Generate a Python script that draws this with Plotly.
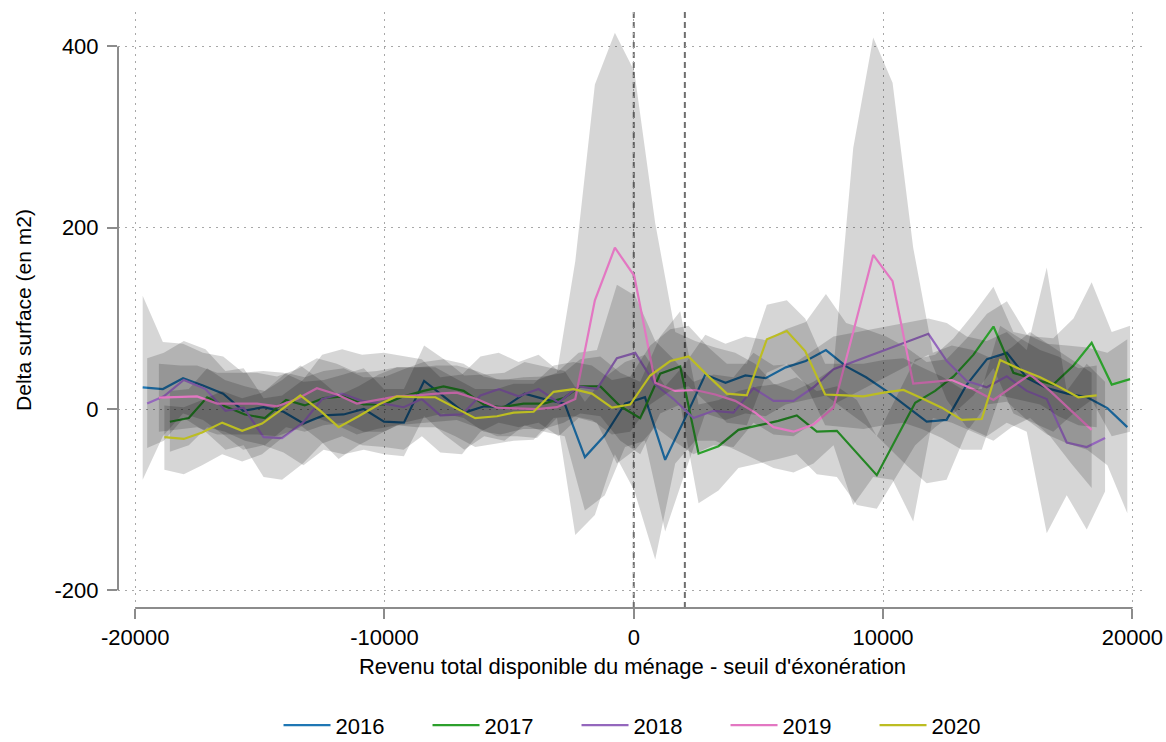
import plotly.graph_objects as go

# estimates (x = revenu - seuil, y = delta surface)
x_2016 = [-19700, -18890, -18080, -17280, -16470, -15670, -14860, -14050, -13250, -12440,
          -11640, -10830, -10020, -9220, -8410, -7610, -6800, -6000, -5190, -4380,
          -3580, -2770, -1960, -1160, -350, 450, 1260, 2060, 2870, 3680,
          4480, 5290, 6100, 6900, 7710, 8520, 9320, 10130, 10940, 11750,
          12550, 13360, 14170, 14970, 15780, 16580, 17390, 18190, 19000, 19800]
y_2016 = [24, 22, 34, 26, 17, -2, 2, -3, -16, -7, -6, 0, -14, -15, 31, 14, -4, 3, 2, 17,
          11, 6, -53, -29, 6, 13, -56, -10, 38, 29, 37, 34, 46, 53, 65, 47, 35, 20, 3, -14,
          -12, 27, 55, 62, 34, 23, 17, 13, 1, -20]
lo_2016 = [-78, -30, -5, -12, -28, -45, -40, -48, -62, -45, -50, -45, -50, -52, -8, -28, -45, -30, -35, -18,
           -25, -30, -112, -95, -42, -35, -135, -70, -5, -12, -5, -8, 5, 10, 15, -2, -18, -40, -62, -82,
           -78, -25, 5, 8, -12, -28, -38, -45, -62, -115]
hi_2016 = [125, 74, 72, 62, 58, 40, 42, 40, 30, 32, 38, 45, 22, 22, 70, 55, 37, 38, 40, 52,
           47, 42, 8, 35, 52, 60, 25, 50, 82, 72, 80, 76, 88, 96, 127, 95, 88, 80, 68, 52,
           55, 78, 105, 119, 82, 72, 70, 68, 62, 77]

x_2017 = [-18610, -17850, -17115, -16400, -15600, -14800, -13950, -13200, -12440, -11640,
          -10840, -10030, -9230, -8430, -7630, -6825, -6020, -5350, -4420, -3620,
          -2810, -2150, -1340, -540, 260, 1060, 1865, 2600, 3400, 4200,
          5000, 5800, 6540, 7345, 8150, 8950, 9750, 11290, 12090, 12830,
          13630, 14430, 15230, 16030, 16830, 17640, 18370, 19175, 19910]
y_2017 = [-14, -10, 13, 3, -6, -10, 10, 4, 12, 14, 5, 5, 14, 20, 25, 20, 5, 2, 6, 6,
          12, 25, 25, 3, -10, 39, 47, -49, -41, -23, -18, -13, -7, -25, -24, -48, -73, 7, 20, 36,
          60, 91, 40, 33, 27, 48, 73, 27, 33]
lo_2017 = [-47, -40, -20, -25, -35, -40, -20, -25, -18, -15, -25, -25, -15, -10, -5, -10, -25, -28, -22, -22,
           -15, -5, -8, -35, -50, -5, 5, -104, -90, -65, -60, -55, -50, -72, -75, -106, -110, -40, -20, -5,
           15, 45, -5, -15, -25, -5, 10, -30, -25]
hi_2017 = [20, 22, 45, 32, 25, 20, 40, 35, 42, 45, 35, 35, 44, 52, 55, 50, 36, 32, 35, 36,
           40, 55, 58, 40, 30, 80, 108, 5, 10, 20, 25, 28, 35, 20, 25, 10, -30, 55, 60, 78,
           105, 135, 85, 80, 78, 100, 140, 85, 92]

x_2018 = [-19520, -18850, -18050, -17180, -16380, -15650, -14850, -14110, -13270, -12500,
          -11700, -10900, -10030, -9230, -8500, -7760, -6890, -6150, -5420, -4620,
          -3820, -3015, -2213, -1478, -676, 60, 862, 1597, 2399, 3201,
          4003, 4805, 5607, 6409, 7211, 8013, 11823, 12558, 13360, 14162,
          14964, 15766, 16568, 17370, 18172, 18907]
y_2018 = [6, 14, 32, 22, -2, 1.5, -31, -32, -15, 11, 17, 9, 6, 2, 11, -7, -6, 15, 22, 14,
          22, 7, 25, 22, 56, 62, 27, 11, -10, -2, -4, 23, 9, 9, 24, 44, 83, 53, 31, 24,
          36, 20, 11, -37, -42, -32]
lo_2018 = [-43, -35, -10, -25, -45, -40, -75, -78, -60, -38, -30, -40, -42, -45, -30, -48, -50, -25, -15, -20,
           -15, -30, -10, -15, -60, -45, -20, -35, -50, -40, -42, -15, -28, -30, -15, 5, 60, 10, -20, -30,
           -15, -25, -137, -95, -133, -91]
hi_2018 = [56, 62, 75, 66, 42, 45, 12, 15, 32, 60, 66, 60, 62, 58, 55, 35, 38, 58, 62, 52,
           60, 42, 62, 65, 137, 125, 75, 55, 30, 38, 35, 62, 48, 50, 65, 80, 100, 95, 80, 75,
           85, 65, 156, 20, 50, 30]

x_2019 = [-19050, -18180, -17520, -16710, -15910, -15110, -14310, -13510, -12710, -11910,
          -11110, -10300, -9500, -8700, -7900, -7100, -6300, -5487, -4685, -3883,
          -3081, -2346, -1559, -757, 20, 862, 1664, 2466, 3268, 4070,
          4872, 5607, 6409, 7211, 8013, 8805, 9606, 10383, 11211, 12000,
          12760, 13600, 14430, 15150, 15900, 16700, 17550, 18370]
y_2019 = [12.5, 13, 14, 6, 6, 6, 3, 11, 23, 16, 6, 10, 14, 15, 17, 18, 11, 1.5, 0.7, 0,
          2, 11, 120, 178, 147, 29, 20, 21, 16, 9, -4, -20, -25, -17, 1.5, 86, 170, 141, 28, 30,
          32, 22, 10, 24, 38, 20, -2, -23]
lo_2019 = [-25, -22, -20, -28, -28, -28, -30, -22, -10, -18, -28, -22, -18, -16, -14, -12, -20, -30, -30, -32,
           -10, -139, -117, -50, -90, -166, -60, -35, -35, -45, -55, -65, -70, -60, -40, -106, -75, -78, -124, -10,
           -15, -25, -35, -20, -10, -30, -60, -87]
hi_2019 = [50, 48, 48, 40, 40, 40, 36, 44, 56, 50, 40, 42, 46, 46, 48, 48, 42, 33, 32, 32,
           40, 163, 358, 415, 373, 205, 85, 75, 68, 62, 50, 28, 20, 30, 45, 288, 410, 360, 178, 62,
           70, 65, 55, 68, 85, 70, 55, 40]

x_2020 = [-18830, -18050, -17315, -16510, -15710, -14910, -14110, -13375, -12570, -11840,
          -11040, -10230, -9500, -8700, -7960, -7160, -6360, -5487, -4819, -4017,
          -3215, -2413, -1678, -876, -141, 661, 1463, 2198, 3000, 3736,
          4538, 5340, 6141, 6877, 7679, 8481, 9216, 10020, 10820, 11556,
          12358, 13160, 13962, 14697, 15499, 16301, 17036, 17838, 18573]
y_2020 = [-31, -33, -26, -15, -24, -16, 0, 15, -2, -20, -8, 5, 14, 13, 13, 1.5, -10, -8, -4, -3,
          19, 22, 17, 1.5, 5, 37, 53, 58, 36, 17, 15, 77, 86, 64, 16, 15, 14, 18, 21, 12,
          1.5, -12, -11, 54, 44, 35, 25, 13, 15]
lo_2020 = [-67, -72, -62, -50, -58, -50, -32, -18, -35, -55, -40, -28, -18, -20, -20, -30, -42, -38, -35, -34,
           -10, -8, -12, -28, -25, 5, 20, 25, 5, -15, -18, 40, 50, 28, -18, -20, -22, -18, -15, -22,
           -32, -45, -45, 15, 10, 5, -8, -18, -20]
hi_2020 = [4, 2, 10, 20, 12, 18, 32, 48, 32, 15, 25, 38, 46, 46, 46, 34, 22, 22, 28, 28,
           48, 52, 48, 32, 36, 70, 88, 92, 68, 50, 50, 115, 120, 100, 50, 50, 50, 54, 56, 46,
           36, 22, 22, 92, 78, 65, 58, 45, 48]

years = ["2016", "2017", "2018", "2019", "2020"]
colors = ["#1f77b4", "#2ca02c", "#9467bd", "#e377c2", "#bcbd22"]
series = [(x_2016, y_2016, lo_2016, hi_2016), (x_2017, y_2017, lo_2017, hi_2017),
          (x_2018, y_2018, lo_2018, hi_2018), (x_2019, y_2019, lo_2019, hi_2019),
          (x_2020, y_2020, lo_2020, hi_2020)]

x_ticks = [-20000, -10000, 0, 10000, 20000]
y_ticks = [-200, 0, 200, 400]
seuils = [0, 2050]

fig = go.Figure()
# stata-like order: band then line for each year, so later bands cover earlier lines
for yr, col, (xs, ys, lo, hi) in zip(years, colors, series):
    fig.add_trace(go.Scatter(x=xs + xs[::-1], y=hi + lo[::-1], fill='toself',
                             fillcolor='rgba(0,0,0,0.16)', line=dict(width=0),
                             mode='lines', showlegend=False, hoverinfo='skip'))
    fig.add_trace(go.Scatter(x=xs, y=ys, mode='lines', name=yr,
                             line=dict(color=col, width=2.2)))

font = "Liberation Sans, Arial, Helvetica, sans-serif"
axis_col = "#8c8c8c"

for s in seuils:
    fig.add_shape(type='line', xref='x', yref='paper', x0=s, x1=s, y0=0, y1=1,
                  line=dict(color='#6e6e6e', width=2, dash='6px,4px'), layer='below')

# axis lines only span the tick range, like in stata
fig.add_shape(type='line', xref='x', yref='paper', x0=x_ticks[0], x1=x_ticks[-1], y0=0, y1=0,
              line=dict(color=axis_col, width=2))
fig.add_shape(type='line', xref='paper', yref='y', x0=0, x1=0, y0=y_ticks[0], y1=y_ticks[-1],
              line=dict(color=axis_col, width=2))

fig.update_layout(
    width=1166, height=742,
    paper_bgcolor='white', plot_bgcolor='white',
    margin=dict(l=118, r=19, t=12, b=134, autoexpand=False),
    font=dict(family=font, size=22, color='black'),
    showlegend=True,
    legend=dict(orientation='h', x=0.518, xanchor='center', y=-0.197, yanchor='middle',
                itemwidth=47, entrywidth=87, entrywidthmode='pixels', font=dict(size=22)),
)
fig.update_xaxes(range=[-20690, 20590], tickvals=x_ticks, ticktext=[str(v) for v in x_ticks],
                 showgrid=True, gridcolor='#a8a8a8', griddash='2px,5px', gridwidth=1,
                 zeroline=False, showline=False, ticks='outside', ticklen=10,
                 tickcolor=axis_col, tickwidth=2, automargin=False,
                 title=dict(text="Revenu total disponible du ménage - seuil d'éxonération",
                            standoff=9, font=dict(size=22)))
fig.update_yaxes(range=[-219.5, 438], tickvals=y_ticks, ticktext=[str(v) for v in y_ticks],
                 showgrid=True, gridcolor='#a8a8a8', griddash='2px,5px', gridwidth=1,
                 zeroline=False, showline=False, ticks='outside', ticklen=10,
                 tickcolor=axis_col, tickwidth=2, ticklabelstandoff=4, automargin=False,
                 title=dict(text="Delta surface (en m2)", standoff=17, font=dict(size=21)))

# drop the default page margin so the figure sits at the window's corner
fig.write_html("out.html", config={'displayModeBar': False},
               post_script="document.body.style.margin='0';")
